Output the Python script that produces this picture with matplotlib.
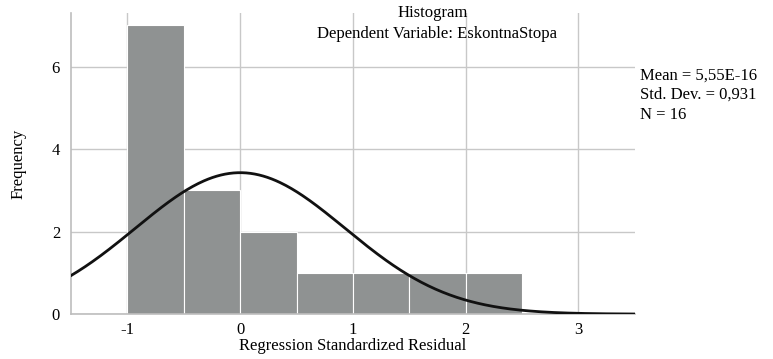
import numpy as np
import matplotlib.pyplot as plt

# histogram of regression standardized residuals
bin_edges = [-1.0, -0.5, 0.0, 0.5, 1.0, 1.5, 2.0, 2.5]
counts = [7, 3, 2, 1, 1, 1, 1]
x_ticks = [-1, 0, 1, 2, 3]
y_ticks = [0, 2, 4, 6]

mean = 5.55e-16
std_dev = 0.931
n = 16

plt.rcParams["font.family"] = ["Liberation Serif", "DejaVu Serif"]

fig = plt.figure(figsize=(7.73, 3.59), dpi=100)
ax = fig.add_axes([0.092, 0.125, 0.729, 0.839])

ax.set_axisbelow(True)
ax.grid(True, color="#c8c8c8", linewidth=1.0)

widths = np.diff(bin_edges)
ax.bar(bin_edges[:-1], counts, width=widths, align="edge",
       color="#8f9292", edgecolor="white", linewidth=0.8, zorder=2)

# normal curve scaled to the histogram
xs = np.linspace(-1.5, 3.5, 400)
bw = widths[0]
ys = n * bw / (std_dev * np.sqrt(2 * np.pi)) * np.exp(-0.5 * ((xs - mean) / std_dev) ** 2)
ax.plot(xs, ys, color="#111111", linewidth=2.0, zorder=3)

ax.set_xlim(-1.5, 3.5)
ax.set_ylim(0, 7.3)
ax.set_xticks(x_ticks)
ax.set_xticklabels([str(t) for t in x_ticks])
ax.set_yticks(y_ticks)
ax.tick_params(axis="y", length=0, labelsize=12, pad=8)
ax.tick_params(axis="x", length=0, labelsize=12, pad=6)

for side in ["top", "right"]:
    ax.spines[side].set_visible(False)
for side in ["left", "bottom"]:
    ax.spines[side].set_color("#bdbdbd")
    ax.spines[side].set_linewidth(1.2)

ax.set_xlabel("Regression Standardized Residual", fontsize=12, labelpad=0)
ax.set_ylabel("Frequency", fontsize=12, labelpad=18)

fig.text(0.56, 0.965, "Histogram", ha="center", va="center", fontsize=12)
fig.text(0.565, 0.905, "Dependent Variable: EskontnaStopa", ha="center", va="center", fontsize=12)

stats = "Mean = 5,55E-16\nStd. Dev. = 0,931\nN = 16"
fig.text(0.828, 0.812, stats, ha="left", va="top", fontsize=12, linespacing=1.3)

fig.savefig("out.png", dpi=100)
